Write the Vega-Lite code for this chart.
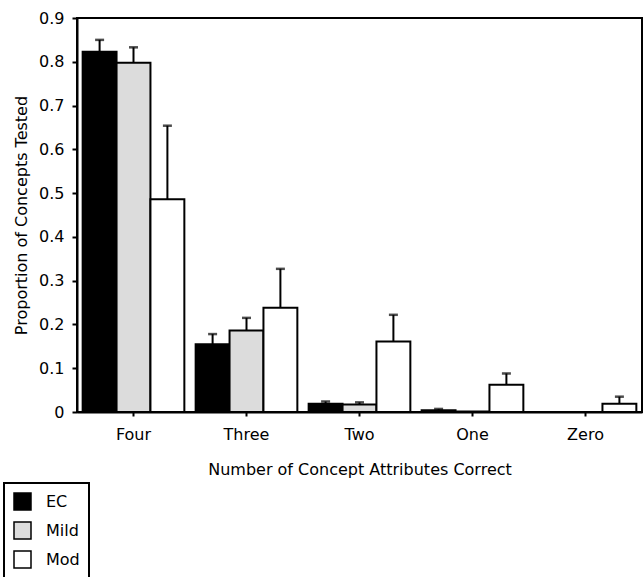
{
  "$schema": "https://vega.github.io/schema/vega-lite/v6.json",
  "width": 565,
  "height": 394,
  "autosize": "none",
  "padding": {"left": 77, "top": 18, "right": 2, "bottom": 165},
  "background": "white",
  "config": {
    "font": "DejaVu Sans",
    "view": {"stroke": "black", "strokeWidth": 2},
    "axis": {
      "domainColor": "black",
      "domainWidth": 2,
      "tickColor": "black",
      "tickWidth": 2,
      "labelColor": "black",
      "titleColor": "black",
      "labelFont": "DejaVu Sans",
      "titleFont": "DejaVu Sans",
      "titleFontWeight": "normal",
      "grid": false
    }
  },
  "data": {
    "values": [
      {"attributes": "Four", "group": "EC", "proportion": 0.823, "upper": 0.850},
      {"attributes": "Four", "group": "Mild", "proportion": 0.798, "upper": 0.833},
      {"attributes": "Four", "group": "Mod", "proportion": 0.486, "upper": 0.654},
      {"attributes": "Three", "group": "EC", "proportion": 0.155, "upper": 0.178},
      {"attributes": "Three", "group": "Mild", "proportion": 0.186, "upper": 0.215},
      {"attributes": "Three", "group": "Mod", "proportion": 0.238, "upper": 0.327},
      {"attributes": "Two", "group": "EC", "proportion": 0.019, "upper": 0.024},
      {"attributes": "Two", "group": "Mild", "proportion": 0.017, "upper": 0.022},
      {"attributes": "Two", "group": "Mod", "proportion": 0.161, "upper": 0.222},
      {"attributes": "One", "group": "EC", "proportion": 0.004, "upper": 0.007},
      {"attributes": "One", "group": "Mild", "proportion": 0.001, "upper": null},
      {"attributes": "One", "group": "Mod", "proportion": 0.062, "upper": 0.088},
      {"attributes": "Zero", "group": "EC", "proportion": 0, "upper": null},
      {"attributes": "Zero", "group": "Mild", "proportion": 0, "upper": null},
      {"attributes": "Zero", "group": "Mod", "proportion": 0.019, "upper": 0.035}
    ]
  },
  "encoding": {
    "x": {
      "field": "attributes",
      "type": "nominal",
      "sort": ["Four", "Three", "Two", "One", "Zero"],
      "scale": {"paddingInner": 0.1, "paddingOuter": 0.05},
      "axis": {
        "title": "Number of Concept Attributes Correct",
        "labelAngle": 0,
        "labelFontSize": 16,
        "labelPadding": 10,
        "tickSize": 4,
        "titleFontSize": 16,
        "titlePadding": 19
      }
    },
    "xOffset": {
      "field": "group",
      "type": "nominal",
      "sort": ["EC", "Mild", "Mod"],
      "scale": {"paddingInner": 0, "paddingOuter": 0}
    }
  },
  "layer": [
    {
      "mark": {"type": "bar", "stroke": "black", "strokeWidth": 2},
      "encoding": {
        "y": {
          "field": "proportion",
          "type": "quantitative",
          "scale": {"domain": [0, 0.9], "nice": false},
          "axis": {
            "title": "Proportion of Concepts Tested",
            "values": [0, 0.1, 0.2, 0.3, 0.4, 0.5, 0.6, 0.7, 0.8, 0.9],
            "format": ".1~f",
            "labelFontSize": 16,
            "labelPadding": 8,
            "tickSize": 5,
            "titleFontSize": 16,
            "titlePadding": 9
          }
        },
        "fill": {
          "field": "group",
          "type": "nominal",
          "sort": ["EC", "Mild", "Mod"],
          "scale": {"domain": ["EC", "Mild", "Mod"], "range": ["black", "#dcdcdc", "white"]},
          "legend": {
            "title": null,
            "orient": "none",
            "legendX": -73,
            "legendY": 465,
            "direction": "vertical",
            "symbolType": "square",
            "symbolSize": 289,
            "symbolStrokeColor": "black",
            "symbolStrokeWidth": 1.5,
            "labelFontSize": 16,
            "labelColor": "black",
            "labelOffset": 14,
            "rowPadding": 6,
            "padding": 9,
            "strokeColor": "black",
            "encode": {"legend": {"update": {"strokeWidth": {"value": 2}}}}
          }
        }
      }
    },
    {
      "transform": [{"filter": "datum.upper != null"}],
      "mark": {"type": "rule", "color": "black", "strokeWidth": 2},
      "encoding": {
        "y": {"field": "proportion", "type": "quantitative"},
        "y2": {"field": "upper"}
      }
    },
    {
      "transform": [{"filter": "datum.upper != null"}],
      "mark": {"type": "tick", "color": "black", "size": 9, "thickness": 2.5},
      "encoding": {
        "y": {"field": "upper", "type": "quantitative"}
      }
    }
  ]
}
